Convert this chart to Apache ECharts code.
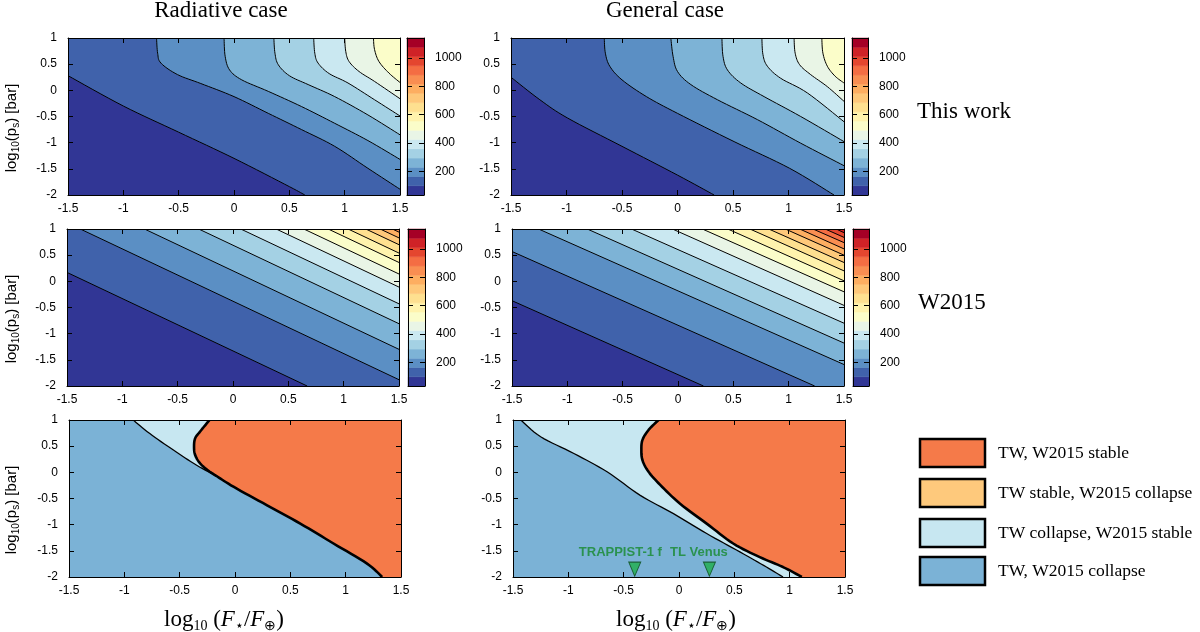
<!DOCTYPE html>
<html>
<head>
<meta charset="utf-8">
<script src="https://cdn.jsdelivr.net/npm/echarts@6/dist/echarts.min.js"></script>
<style>
  html, body { margin: 0; background: #fff; }
  #chart { width: 1200px; height: 632px; }
</style>
</head>
<body>
<div id="chart"></div>
<script>
// colour bar bins (temperature) and their colours, lowest first
const binEdges = [35, 100, 165, 230, 295, 360, 425, 490, 555, 620, 685, 750, 815, 880, 945, 1010, 1075, 1140];
const binColors = ['#313695', '#4062ab', '#5b8fc4', '#7db3d6', '#a4d1e4', '#cae8f1', '#e9f5e6', '#fbfdc9',
  '#fff3ad', '#fee090', '#fec87a', '#fdae61', '#f98e52', '#f46d43', '#e4462f', '#cf2227', '#a50026'];
const cbTicks = [200, 400, 600, 800, 1000];

// contour lines, lowest level first ([log10 F, log10 ps])
const twRadLines = [
  [[-1.5, 0.28], [-1.0, -0.3], [-0.5, -0.8], [0, -1.3], [0.5, -1.84], [0.64, -2]],
  [[-0.70, 1], [-0.69, 0.71], [-0.66, 0.52], [-0.51, 0.30], [-0.30, 0.13], [0, -0.12], [0.31, -0.44], [0.61, -0.75], [0.91, -1.07], [1.21, -1.49], [1.5, -1.89]],
  [[-0.09, 1], [-0.08, 0.65], [-0.04, 0.39], [0.07, 0.20], [0.31, -0.02], [0.61, -0.31], [0.91, -0.63], [1.21, -0.96], [1.5, -1.32]],
  [[0.36, 1], [0.37, 0.71], [0.40, 0.49], [0.50, 0.28], [0.67, 0.11], [0.91, -0.12], [1.21, -0.47], [1.5, -0.85]],
  [[0.72, 1], [0.73, 0.71], [0.76, 0.52], [0.86, 0.32], [1.03, 0.14], [1.27, -0.18], [1.5, -0.49]],
  [[1.0, 1], [1.01, 0.74], [1.04, 0.55], [1.13, 0.36], [1.27, 0.17], [1.5, -0.16]],
  [[1.26, 1], [1.27, 0.78], [1.31, 0.55], [1.40, 0.33], [1.5, 0.15]]
];
const twGenLines = [
  [[-1.5, 0.25], [-1.24, -0.18], [-0.99, -0.53], [-0.5, -1.07], [0, -1.62], [0.33, -2]],
  [[-0.66, 1], [-0.65, 0.71], [-0.61, 0.46], [-0.5, 0.20], [-0.28, -0.12], [0, -0.44], [0.51, -0.98], [1.01, -1.49], [1.41, -2]],
  [[-0.06, 1], [-0.04, 0.65], [0, 0.36], [0.12, 0.11], [0.36, -0.18], [0.72, -0.56], [1.11, -1.01], [1.5, -1.44]],
  [[0.40, 1], [0.41, 0.65], [0.45, 0.39], [0.57, 0.14], [0.78, -0.12], [1.11, -0.50], [1.5, -0.98]],
  [[0.76, 1], [0.77, 0.68], [0.81, 0.46], [0.93, 0.23], [1.17, -0.05], [1.5, -0.60]],
  [[1.05, 1], [1.06, 0.71], [1.10, 0.49], [1.20, 0.30], [1.35, 0.07], [1.5, -0.21]],
  [[1.30, 1], [1.31, 0.71], [1.35, 0.46], [1.42, 0.27], [1.5, 0.14]]
];
const wRadLines = [
  [[-1.5, 0.17], [0.67, -2]],
  [[-1.38, 1], [1.5, -1.88]],
  [[-0.80, 1], [1.5, -1.30]],
  [[-0.31, 1], [1.5, -0.81]],
  [[0.07, 1], [1.5, -0.43]],
  [[0.39, 1], [1.5, -0.11]],
  [[0.64, 1], [1.5, 0.14]],
  [[0.86, 1], [1.5, 0.36]],
  [[1.04, 1], [1.5, 0.54]],
  [[1.20, 1], [1.5, 0.70]],
  [[1.33, 1], [1.5, 0.83]],
  [[1.44, 1], [1.5, 0.94]]
];
const wGenLines = [
  [[-1.5, -0.37], [0.23, -2]],
  [[-1.5, 0.57], [1.235, -2]],
  [[-1.26, 1], [1.5, -1.59]],
  [[-0.82, 1], [1.5, -1.18]],
  [[-0.42, 1], [1.5, -0.80]],
  [[-0.05, 1], [1.5, -0.46]],
  [[0.22, 1], [1.5, -0.20]],
  [[0.45, 1], [1.5, 0.01]],
  [[0.65, 1], [1.5, 0.20]],
  [[0.82, 1], [1.5, 0.36]],
  [[0.97, 1], [1.5, 0.50]],
  [[1.10, 1], [1.5, 0.62]],
  [[1.22, 1], [1.5, 0.74]],
  [[1.33, 1], [1.5, 0.84]],
  [[1.43, 1], [1.5, 0.93]]
];

// stability boundaries (bottom row)
const radCollapseLine = [[-0.92, 1], [-0.77, 0.74], [-0.56, 0.43], [-0.35, 0.14], [-0.16, -0.08]];
const radStableUpper = [[-0.23, 1], [-0.315, 0.78], [-0.36, 0.65], [-0.37, 0.49], [-0.36, 0.33], [-0.315, 0.17], [-0.24, 0.03], [-0.16, -0.08]];
const radStableLower = [[-0.16, -0.08], [-0.01, -0.28], [0.29, -0.63], [0.59, -0.98], [0.89, -1.36], [1.19, -1.74], [1.33, -2]];
const genCollapseLine = [[-1.43, 1], [-1.25, 0.68], [-0.95, 0.36], [-0.65, 0.01], [-0.35, -0.44], [-0.05, -0.79], [0.25, -1.17], [0.55, -1.52], [0.79, -1.81], [0.94, -2]];
const genStableLine = [[-0.185, 1], [-0.275, 0.81], [-0.33, 0.62], [-0.34, 0.43], [-0.33, 0.23], [-0.275, 0.01], [-0.17, -0.24], [0.01, -0.60], [0.25, -0.98], [0.49, -1.36], [0.73, -1.62], [0.94, -1.81], [1.11, -2]];

const planets = ['TRAPPIST-1 f', 'TL Venus'];
const planetX = [-0.40, 0.275];
const planetY = [-1.85, -1.85];
const planetLabelX = [-0.53, 0.18];
const planetLabelY = [-1.53, -1.53];

const legendNames = ['TW, W2015 stable', 'TW stable, W2015 collapse', 'TW collapse, W2015 stable', 'TW, W2015 collapse'];
const legendColors = ['#f57a49', '#fec97c', '#c7e7f1', '#7bb2d6'];

const XMIN = -1.5, XMAX = 1.5, YMIN = -2, YMAX = 1;
const corners = [[XMIN, YMIN], [XMAX, YMIN], [XMAX, YMAX], [XMIN, YMAX]];
const sans = "'Liberation Sans', Arial, sans-serif";
const serif = "'Liberation Serif', 'Times New Roman', serif";

// position of a border point along the frame, counter-clockwise from bottom-left
function perim(p) {
  const x = p[0], y = p[1], e = 1e-6;
  if (Math.abs(y - YMIN) < e) return (x - XMIN) / (XMAX - XMIN);
  if (Math.abs(x - XMAX) < e) return 1 + (y - YMIN) / (YMAX - YMIN);
  if (Math.abs(y - YMAX) < e) return 2 + (XMAX - x) / (XMAX - XMIN);
  return 3 + (YMAX - y) / (YMAX - YMIN);
}

// close a line through the frame corners on its upper-right side
function highSide(line) {
  const pts = line.slice();
  const te = perim(line[line.length - 1]);
  let ts = perim(line[0]);
  if (ts <= te) ts += 4;
  for (let k = Math.floor(te) + 1; k < ts; k++) pts.push(corners[k % 4]);
  return pts;
}

// catmull-rom drawing of a read polyline so the curves look drawn, not kinked
function curve(pts) {
  if (pts.length < 3) return pts;
  const out = [pts[0]];
  for (let i = 0; i < pts.length - 1; i++) {
    const p0 = pts[Math.max(i - 1, 0)], p1 = pts[i], p2 = pts[i + 1], p3 = pts[Math.min(i + 2, pts.length - 1)];
    for (let s = 1; s <= 8; s++) {
      const t = s / 8, t2 = t * t, t3 = t2 * t;
      out.push([0, 1].map(d => 0.5 * (2 * p1[d] + (p2[d] - p0[d]) * t +
        (2 * p0[d] - 5 * p1[d] + 4 * p2[d] - p3[d]) * t2 + (3 * p1[d] - p0[d] - 3 * p2[d] + p3[d]) * t3)));
    }
  }
  return out;
}

const grids = [
  { left: 68, top: 38, width: 332, height: 157 },
  { left: 511, top: 38, width: 333, height: 157 },
  { left: 67, top: 229, width: 332, height: 157 },
  { left: 512, top: 229, width: 332, height: 157 },
  { left: 69, top: 420, width: 332, height: 157 },
  { left: 513, top: 420, width: 332, height: 157 },
  // colour bars
  { left: 407, top: 38, width: 17, height: 157 },
  { left: 852, top: 38, width: 16, height: 157 },
  { left: 408, top: 229, width: 17, height: 157 },
  { left: 853, top: 229, width: 16, height: 157 }
];

const xAxis = [];
const yAxis = [];
const line = { show: true, onZero: false, lineStyle: { color: '#000', width: 1 } };
const tick = { show: true, inside: true, length: 5, lineStyle: { color: '#000', width: 1 } };
const label = { color: '#000', fontSize: 12, fontFamily: sans };

for (let g = 0; g < 6; g++) {
  ['bottom', 'top'].forEach((pos, k) => {
    xAxis.push({
      gridIndex: g, type: 'value', min: -1.5, max: 1.5, interval: 0.5, position: pos, z: 10,
      axisLine: line, axisTick: tick, splitLine: { show: false },
      axisLabel: k === 0 ? Object.assign({ margin: 8 }, label) : { show: false }
    });
  });
  ['left', 'right'].forEach((pos, k) => {
    yAxis.push({
      gridIndex: g, type: 'value', min: -2, max: 1, interval: 0.5, position: pos, z: 10,
      axisLine: line, axisTick: tick, splitLine: { show: false },
      axisLabel: k === 0 ? Object.assign({ margin: 11 }, label) : { show: false }
    });
  });
}
for (let g = 6; g < 10; g++) {
  ['bottom', 'top'].forEach(pos => {
    xAxis.push({
      gridIndex: g, type: 'value', min: 0, max: 1, position: pos, z: 10,
      axisLine: line, axisTick: { show: false }, axisLabel: { show: false }, splitLine: { show: false }
    });
  });
  ['right', 'left'].forEach((pos, k) => {
    yAxis.push({
      gridIndex: g, type: 'value', min: binEdges[0], max: binEdges[binEdges.length - 1], position: pos, z: 10,
      axisLine: line, splitLine: { show: false },
      axisTick: Object.assign({ customValues: cbTicks }, tick),
      axisLabel: k === 0
        ? Object.assign({ margin: 11, align: 'left', customValues: cbTicks, formatter: v => String(v) }, label)
        : { show: false }
    });
  });
}

function contourSeries(g, lines) {
  const drawn = lines.map(curve);
  const bands = [-1].concat(lines.map((l, i) => i));
  return [{
    type: 'custom', xAxisIndex: 2 * g, yAxisIndex: 2 * g, silent: true, clip: true,
    data: bands.map(() => [0, 0]),
    renderItem(params, api) {
      const i = params.dataIndex - 1;
      const poly = i < 0 ? corners : highSide(drawn[i]);
      const c = binColors[i + 1];
      return { type: 'polygon', shape: { points: poly.map(p => api.coord(p)) }, style: { fill: c, stroke: c, lineWidth: 0.5 } };
    }
  }, {
    type: 'custom', xAxisIndex: 2 * g, yAxisIndex: 2 * g, silent: true, clip: true, z: 3,
    data: lines.map(() => [0, 0]),
    renderItem(params, api) {
      return { type: 'polyline', shape: { points: drawn[params.dataIndex].map(p => api.coord(p)) }, style: { stroke: '#000', lineWidth: 1, fill: null } };
    }
  }];
}

function regionSeries(g, regions, strokes) {
  return [{
    type: 'custom', xAxisIndex: 2 * g, yAxisIndex: 2 * g, silent: true, clip: true,
    data: regions.map(() => [0, 0]),
    renderItem(params, api) {
      const r = regions[params.dataIndex];
      return { type: 'polygon', shape: { points: r.pts.map(p => api.coord(p)) }, style: { fill: r.color, stroke: r.color, lineWidth: 0.5 } };
    }
  }, {
    type: 'custom', xAxisIndex: 2 * g, yAxisIndex: 2 * g, silent: true, clip: true, z: 3,
    data: strokes.map(() => [0, 0]),
    renderItem(params, api) {
      const s = strokes[params.dataIndex];
      return { type: 'polyline', shape: { points: s.pts.map(p => api.coord(p)) }, style: { stroke: '#000', lineWidth: s.width, fill: null, lineJoin: 'round' } };
    }
  }];
}

function colorBarSeries(g) {
  return {
    type: 'custom', xAxisIndex: 2 * g, yAxisIndex: 2 * g, silent: true,
    data: binColors.map(() => [0, 0]),
    renderItem(params, api) {
      const i = params.dataIndex;
      const a = api.coord([0, binEdges[i]]);
      const b = api.coord([1, binEdges[i + 1]]);
      return {
        type: 'rect', shape: { x: a[0], y: b[1], width: b[0] - a[0], height: a[1] - b[1] },
        style: { fill: binColors[i], stroke: binColors[i], lineWidth: 0.5 }
      };
    }
  };
}

const radStable = curve(radStableUpper.concat(radStableLower.slice(1)));
const radCollapse = curve(radCollapseLine);
const radCollapseEdge = curve(radCollapseLine.concat(radStableLower.slice(1)));
const genStable = curve(genStableLine);
const genCollapse = curve(genCollapseLine);

const series = [].concat(
  contourSeries(0, twRadLines),
  contourSeries(1, twGenLines),
  contourSeries(2, wRadLines),
  contourSeries(3, wGenLines),
  regionSeries(4, [
    { pts: corners, color: legendColors[3] },
    { pts: highSide(radCollapseEdge), color: legendColors[2] },
    { pts: highSide(radStable), color: legendColors[0] }
  ], [
    { pts: radCollapse, width: 1.3 },
    { pts: radStable, width: 2.6 }
  ]),
  regionSeries(5, [
    { pts: corners, color: legendColors[3] },
    { pts: highSide(genCollapse), color: legendColors[2] },
    { pts: highSide(genStable), color: legendColors[0] }
  ], [
    { pts: genCollapse, width: 1.3 },
    { pts: genStable, width: 2.6 }
  ]),
  [6, 7, 8, 9].map(colorBarSeries),
  [{
    type: 'scatter', xAxisIndex: 10, yAxisIndex: 10, silent: true, z: 5,
    data: planetX.map((x, i) => [x, planetY[i]]),
    symbol: 'triangle', symbolRotate: 180, symbolSize: [12, 14],
    itemStyle: { color: '#1fae4b', borderColor: '#0b4a1c', borderWidth: 1 }
  }, {
    type: 'scatter', xAxisIndex: 10, yAxisIndex: 10, silent: true, z: 5,
    data: planets.map((n, i) => ({ value: [planetLabelX[i], planetLabelY[i]], name: n })),
    symbolSize: 1, itemStyle: { color: 'rgba(0,0,0,0)' },
    label: {
      show: true, position: 'inside', formatter: '{b}', color: '#178a2d', fontWeight: 'bold', fontSize: 13,
      fontFamily: sans
    }
  }]
);

// texts outside the plots
const yName = '{a|log}{s|10}{a|(p}{s|s}{a|) [bar]}';
const yRich = {
  a: { fontSize: 15, fontFamily: sans, lineHeight: 18, verticalAlign: 'middle' },
  s: { fontSize: 10, fontFamily: sans, lineHeight: 10, verticalAlign: 'bottom' }
};
const xName = '{a|log}{s|10}{a| (}{i|F}{s|\u22c6}{a|/}{i|F}{s|\u2295}{a|)}';
const xRich = {
  a: { fontSize: 23, fontFamily: serif, lineHeight: 26, verticalAlign: 'middle' },
  i: { fontSize: 23, fontFamily: serif, fontStyle: 'italic', lineHeight: 26, verticalAlign: 'middle' },
  s: { fontSize: 14, fontFamily: serif, lineHeight: 14, verticalAlign: 'bottom' }
};

const graphic = [
  { type: 'text', x: 221, y: 11, style: { text: 'Radiative case', font: '23px ' + serif, fill: '#000', align: 'center', verticalAlign: 'middle' } },
  { type: 'text', x: 665, y: 11, style: { text: 'General case', font: '23px ' + serif, fill: '#000', align: 'center', verticalAlign: 'middle' } },
  { type: 'text', x: 917, y: 112, style: { text: 'This work', font: '23px ' + serif, fill: '#000', align: 'left', verticalAlign: 'middle' } },
  { type: 'text', x: 918, y: 303, style: { text: 'W2015', font: '23px ' + serif, fill: '#000', align: 'left', verticalAlign: 'middle' } }
];
[128, 319, 510].forEach(y => {
  graphic.push({ type: 'text', x: 12, y: y, rotation: Math.PI / 2, style: { text: yName, rich: yRich, fill: '#000', align: 'center', verticalAlign: 'middle' } });
});
[224, 676].forEach(x => {
  graphic.push({ type: 'text', x: x, y: 620, style: { text: xName, rich: xRich, fill: '#000', align: 'center', verticalAlign: 'middle' } });
});
[439, 479, 519, 557].forEach((y, i) => {
  graphic.push({ type: 'rect', shape: { x: 920, y: y, width: 65, height: 28 }, style: { fill: legendColors[i], stroke: '#000', lineWidth: 2.5 } });
  graphic.push({ type: 'text', x: 998, y: y + 14, style: { text: legendNames[i], font: '17.5px ' + serif, fill: '#000', align: 'left', verticalAlign: 'middle' } });
});

const chart = echarts.init(document.getElementById('chart'));
chart.setOption({
  animation: false,
  backgroundColor: '#fff',
  grid: grids,
  xAxis: xAxis,
  yAxis: yAxis,
  series: series,
  graphic: graphic
});
</script>
</body>
</html>
